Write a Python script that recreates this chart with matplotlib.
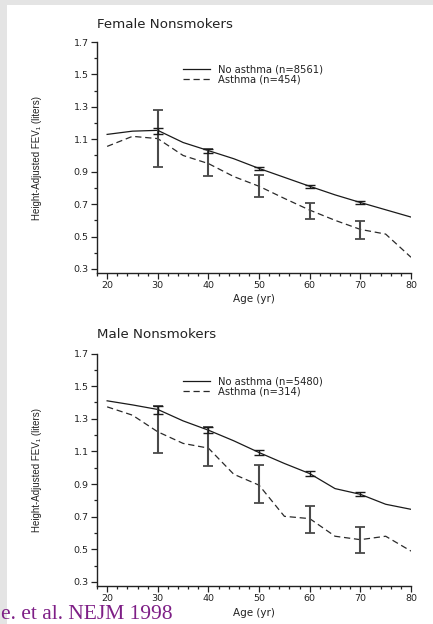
import matplotlib
matplotlib.use("Agg")
import matplotlib.pyplot as plt
from matplotlib.patches import Rectangle
from matplotlib.ticker import MultipleLocator

# ---------------- data ----------------
ages = [20, 25, 30, 35, 40, 45, 50, 55, 60, 65, 70, 75, 80]
bar_ages = [30, 40, 50, 60, 70]

female_no = [1.13, 1.15, 1.155, 1.08, 1.03, 0.98, 0.92, 0.865, 0.81, 0.757, 0.71, 0.665, 0.62]
female_asth = [1.056, 1.118, 1.104, 1.0, 0.95, 0.87, 0.81, 0.735, 0.663, 0.60, 0.544, 0.515, 0.372]
female_no_lo = [1.135, 1.015, 0.91, 0.80, 0.70]
female_no_hi = [1.17, 1.04, 0.93, 0.82, 0.72]
female_asth_lo = [0.93, 0.874, 0.745, 0.606, 0.483]
female_asth_hi = [1.278, 1.038, 0.878, 0.704, 0.597]

male_no = [1.41, 1.385, 1.357, 1.287, 1.23, 1.165, 1.093, 1.026, 0.964, 0.872, 0.837, 0.776, 0.745]
male_asth = [1.373, 1.322, 1.22, 1.149, 1.12, 0.96, 0.893, 0.702, 0.688, 0.58, 0.559, 0.58, 0.489]
male_no_lo = [1.328, 1.21, 1.077, 0.95, 0.825]
male_no_hi = [1.378, 1.25, 1.11, 0.98, 0.85]
male_asth_lo = [1.09, 1.011, 0.786, 0.60, 0.477]
male_asth_hi = [1.378, 1.25, 1.015, 0.764, 0.636]

panels = [
    dict(title="Female Nonsmokers", no=female_no, asth=female_asth,
         no_lo=female_no_lo, no_hi=female_no_hi, a_lo=female_asth_lo, a_hi=female_asth_hi,
         lab_no="No asthma (n=8561)", lab_a="Asthma (n=454)"),
    dict(title="Male Nonsmokers", no=male_no, asth=male_asth,
         no_lo=male_no_lo, no_hi=male_no_hi, a_lo=male_asth_lo, a_hi=male_asth_hi,
         lab_no="No asthma (n=5480)", lab_a="Asthma (n=314)"),
]

yticks = [0.3, 0.5, 0.7, 0.9, 1.1, 1.3, 1.5, 1.7]
xticks = [20, 30, 40, 50, 60, 70, 80]

# ---------------- figure ----------------
W, H = 433, 624
fig = plt.figure(figsize=(W / 100, H / 100), dpi=100, facecolor="#e4e4e4")
fig.patches.append(Rectangle((7 / W, 0), 1 - 7 / W, 1 - 5 / H, transform=fig.transFigure,
                             facecolor="white", edgecolor="none", zorder=-5))

axes_px = [(42, 273), (353.5, 586)]  # (top, bottom) pixel rows
left_px, right_px = 97, 411
title_y = [24, 335]
narrow = ["Liberation Sans Narrow", "Liberation Sans", "DejaVu Sans"]

for p, (top, bot), ty in zip(panels, axes_px, title_y):
    ax = fig.add_axes([left_px / W, 1 - bot / H, (right_px - left_px) / W, (bot - top) / H])
    ax.set_facecolor("none")
    ax.plot(ages, p["no"], color="#1a1a1a", lw=0.9, label=p["lab_no"])
    ax.plot(ages, p["asth"], color="#2a2a2a", lw=0.9, dashes=(5, 3), label=p["lab_a"])
    no_c = [(a + b) / 2 for a, b in zip(p["no_lo"], p["no_hi"])]
    no_e = [(b - a) / 2 for a, b in zip(p["no_lo"], p["no_hi"])]
    a_c = [(a + b) / 2 for a, b in zip(p["a_lo"], p["a_hi"])]
    a_e = [(b - a) / 2 for a, b in zip(p["a_lo"], p["a_hi"])]
    ax.errorbar(bar_ages, a_c, yerr=a_e, fmt="none", ecolor="#4a4a4a", elinewidth=1.5,
                capsize=3.8, capthick=1.3)
    ax.errorbar(bar_ages, no_c, yerr=no_e, fmt="none", ecolor="#1a1a1a", elinewidth=1.0,
                capsize=3.8, capthick=1.0)

    ax.set_xlim(18, 80)
    ax.set_ylim(0.275, 1.7)
    ax.set_xticks(xticks)
    ax.set_yticks(yticks)
    ax.set_yticklabels([f"{v:.1f}" for v in yticks])
    ax.xaxis.set_minor_locator(MultipleLocator(2))
    ax.yaxis.set_minor_locator(MultipleLocator(0.1))
    for s in ("top", "right"):
        ax.spines[s].set_visible(False)
    for s in ("left", "bottom"):
        ax.spines[s].set_linewidth(1.0)
        ax.spines[s].set_color("#222222")
    ax.tick_params(which="major", direction="out", length=4, width=0.9, labelsize=6.8,
                   colors="#222222", pad=2)
    ax.tick_params(which="minor", direction="out", length=2.5, width=0.9, colors="#222222")
    ax.set_xlabel("Age (yr)", fontsize=7.5, color="#222222", labelpad=3)
    ax.set_ylabel("Height-Adjusted FEV\u2081 (liters)", fontsize=7.0, family=narrow,
                  fontstretch="condensed", color="#222222")
    ax.yaxis.set_label_coords(-55 / (right_px - left_px), 0.5)
    fig.text(left_px / W, 1 - ty / H, p["title"], fontsize=9.6, color="#222222",
             ha="left", va="center")
    ax.legend(loc="upper left", bbox_to_anchor=(0.262, 0.918), frameon=False,
              fontsize=7.2, handlelength=2.7, handletextpad=0.75, labelspacing=0.0,
              borderaxespad=0, labelcolor="#222222")

fig.text(1 / W, 0, "e. et al. NEJM 1998", fontsize=15.5, color="#7e1f86",
         family=["Liberation Serif", "DejaVu Serif"], ha="left", va="bottom")

fig.savefig("out.png", dpi=100, facecolor=fig.get_facecolor())
